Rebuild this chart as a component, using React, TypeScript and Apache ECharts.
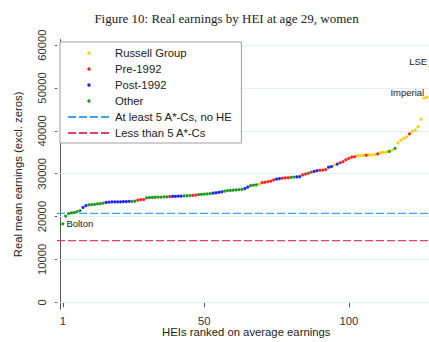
import React, { useEffect, useRef } from "react";
import * as echarts from "echarts";

const chartTitle = "Figure 10: Real earnings by HEI at age 29, women";
const xAxisTitle = "HEIs ranked on average earnings";
const yAxisTitle = "Real mean earnings (excl. zeros)";
const xTickValues = [1, 50, 100];
const yTickValues = [0, 10000, 20000, 30000, 40000, 50000, 60000];

// group codes: R = Russell Group, P = Pre-1992, N = Post-1992, O = Other
const groupNames: Record<string, string> = {
  R: "Russell Group",
  P: "Pre-1992",
  N: "Post-1992",
  O: "Other",
};
const groupOrder = ["R", "P", "N", "O"];

// real mean earnings, HEIs in rank order (rank 1 = lowest)
const earnings = [
  18300, 20100, 20700, 20850, 21000, 21150, 21400, 22150, 22550, 22700,
  22800, 22850, 22950, 23000, 23150, 23300, 23350, 23400, 23400, 23450,
  23450, 23500, 23500, 23550, 23550, 23600, 23850, 23950, 23950, 24350,
  24400, 24450, 24500, 24550, 24550, 24600, 24600, 24650, 24700, 24700,
  24750, 24750, 24800, 24850, 24900, 24950, 25000, 25100, 25150, 25250,
  25300, 25350, 25450, 25550, 25650, 25750, 25950, 26050, 26100, 26150,
  26200, 26300, 26350, 26500, 26850, 27200, 27350, 27400, 27550, 27900,
  28000, 28150, 28250, 28550, 28750, 28850, 28950, 29000, 29050, 29150,
  29200, 29250, 29300, 29700, 29900, 30100, 30350, 30550, 30700, 30800,
  30850, 30950, 31500, 31650, 32000, 32250, 32550, 32800, 33250, 33550,
  33850, 33950, 34200, 34200, 34250, 34300, 34400, 34400, 34450, 34600,
  34900, 34950, 35050, 35200, 35500, 35900, 37200, 37800, 38250, 38600,
  39300, 39800, 40150, 40950, 42750, 47650, 47850, 55100,
];

const groups = (
  "OOOOOOO" + "NN" + "OOOOOO" + "NNNNNNNNN" + "OO" + "PPP" + "OOOOOOOO" + "P" +
  "NNNN" + "OOO" + "PP" + "OOOOO" + "NNNN" + "OOOOOOO" + "NN" + "OOO" + "R" +
  "PPPPP" + "NN" + "PPP" + "OO" + "NN" + "PP" + "O" + "P" + "NN" + "PPP" + "NN" +
  "R" + "N" + "PPPPPP" + "RRR" + "P" + "RRR" + "P" + "RRR" + "O" + "R" + "O" +
  "RRRR" + "P" + "RRRRRRR"
).split("");

const labeledHEIs = [
  { rank: 1, name: "Bolton" },
  { rank: 127, name: "Imperial" },
  { rank: 128, name: "LSE" },
];

const benchmarks = [
  { name: "At least 5 A*-Cs, no HE", value: 20750 },
  { name: "Less than 5 A*-Cs", value: 14400 },
];

const X_MIN = -1;
const X_MAX = 130;
const Y_MIN = -1635;
const Y_MAX = 61300;

const groupColors: Record<string, string> = {
  R: "#ffcc11",
  P: "#ff2626",
  N: "#2424ff",
  O: "#239a23",
};
const benchmarkColors = ["#3aa3ff", "#e0406a"];
const SANS = "'Liberation Sans', Arial, sans-serif";

export default function App() {
  const ref = useRef<HTMLDivElement>(null);

  useEffect(() => {
    if (!ref.current) return;
    const chart = echarts.init(ref.current, undefined, { renderer: "svg" });

    const labelStyle = (name: string) => {
      if (name === "Bolton") {
        return { position: "right", distance: 2, offset: [0, 0] };
      }
      return { position: "left", distance: 1, offset: [0, -4.5] };
    };

    const scatterSeries = groupOrder.map((code) => {
      const data: any[] = [];
      earnings.forEach((v, i) => {
        if (groups[i] !== code) return;
        const rank = i + 1;
        const lab = labeledHEIs.find((l) => l.rank === rank);
        const item: any = { value: [rank, v] };
        if (lab) {
          item.label = {
            show: true,
            formatter: lab.name,
            fontSize: 9.5,
            fontFamily: SANS,
            color: "#222",
            ...labelStyle(lab.name),
          };
        }
        data.push(item);
      });
      return {
        type: "scatter",
        name: groupNames[code],
        data,
        symbol: "circle",
        symbolSize: 3.2,
        z: 3,
        silent: true,
        itemStyle: { color: groupColors[code], opacity: 1 },
      };
    });

    const benchmarkSeries = benchmarks.map((b, i) => ({
      type: "line",
      name: b.name,
      data: [
        [X_MIN, b.value],
        [X_MAX, b.value],
      ],
      symbol: "none",
      showSymbol: false,
      silent: true,
      z: 2,
      itemStyle: { color: benchmarkColors[i], opacity: 0 },
      lineStyle: { color: benchmarkColors[i], width: 1.3, type: [8, 3], opacity: 1 },
      ...(i === 0
        ? {
            markLine: {
              silent: true,
              z: 1,
              symbol: ["none", "none"],
              label: { show: false },
              lineStyle: { color: "#e6eef1", width: 1, type: "solid", opacity: 1 },
              data: yTickValues.map((v) => ({ yAxis: v })),
            },
          }
        : {}),
    }));

    chart.setOption({
      animation: false,
      backgroundColor: "#ffffff",
      grid: {
        left: 57,
        top: 39.5,
        width: 378.5,
        height: 269.8,
        containLabel: false,
        outerBoundsMode: "none",
      },
      graphic: [
        {
          type: "text",
          x: 226.5,
          y: 18,
          style: {
            text: chartTitle,
            font: "13px 'Liberation Serif', 'Times New Roman', serif",
            fill: "#222",
            textAlign: "center",
            textVerticalAlign: "middle",
          },
        },
      ],
      legend: {
        orient: "vertical",
        left: 60,
        top: 42,
        itemWidth: 42,
        itemHeight: 3.5,
        itemGap: 2,
        padding: [4, 9, 3, 7],
        borderColor: "#a0a0a0",
        borderWidth: 1,
        backgroundColor: "#ffffff",
        selectedMode: false,
        textStyle: { fontSize: 11.3, fontFamily: SANS, color: "#222", lineHeight: 14 },
        data: [
          ...groupOrder.map((c) => ({ name: groupNames[c], icon: "circle" })),
          ...benchmarks.map((b) => ({ name: b.name, itemStyle: { opacity: 0 } })),
        ],
      },
      xAxis: {
        type: "value",
        min: X_MIN,
        max: X_MAX,
        name: xAxisTitle,
        nameLocation: "middle",
        nameGap: 17,
        nameMoveOverlap: false,
        nameTextStyle: { fontSize: 11.3, fontFamily: SANS, color: "#222" },
        axisLine: { show: true, lineStyle: { color: "#555", width: 1 } },
        axisTick: { show: true, length: 5, customValues: xTickValues, lineStyle: { color: "#555" } },
        axisLabel: {
          customValues: xTickValues,
          margin: 6,
          fontSize: 11.3,
          fontFamily: SANS,
          color: "#333",
          formatter: (v: number) => String(v),
        },
        splitLine: { show: false },
      },
      yAxis: {
        type: "value",
        min: Y_MIN,
        max: Y_MAX,
        name: yAxisTitle,
        nameLocation: "middle",
        nameGap: 34,
        nameMoveOverlap: false,
        nameTextStyle: { fontSize: 11.3, fontFamily: SANS, color: "#222" },
        axisLine: { show: true, lineStyle: { color: "#555", width: 1 } },
        axisTick: { show: true, length: 5, customValues: yTickValues, lineStyle: { color: "#555" } },
        axisLabel: {
          customValues: yTickValues,
          rotate: 90,
          margin: 10,
          fontSize: 11.3,
          fontFamily: SANS,
          color: "#333",
          formatter: (v: number) => String(v),
        },
        splitLine: { show: false },
      },
      series: [...benchmarkSeries, ...scatterSeries],
    } as any);

    return () => chart.dispose();
  }, []);

  return (
    <div
      ref={ref}
      style={{ position: "fixed", left: 0, top: 0, width: 429, height: 342 }}
    />
  );
}
